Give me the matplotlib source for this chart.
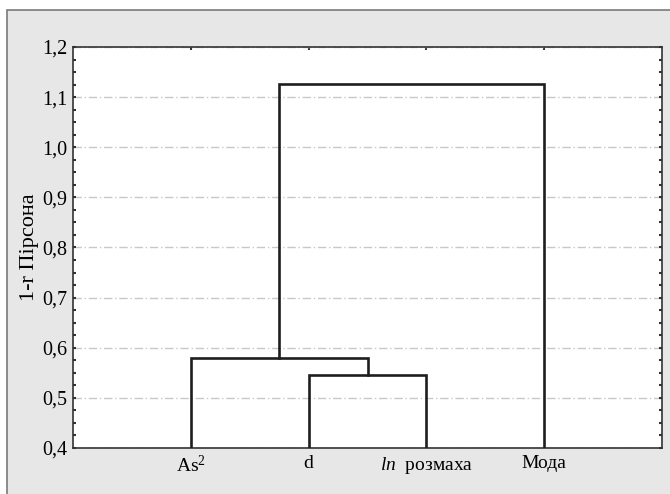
import matplotlib
matplotlib.use("Agg")
import matplotlib.pyplot as plt
from matplotlib.patches import Rectangle
from matplotlib.ticker import MultipleLocator, FuncFormatter

# leaves in dendrogram order and merge heights (1 - Pearson r)
leaves = ["As$^2$", "d", "$\\mathit{ln}$  розмаха", "Мода"]
# (left node, right node, height); nodes >= len(leaves) are earlier merges
merges = [
    (1, 2, 0.545),
    (0, 4, 0.580),
    (5, 3, 1.127),
]
y_label = "1-r Пірсона"

plt.rcParams["font.family"] = ["Liberation Serif", "DejaVu Serif"]
plt.rcParams["mathtext.fontset"] = "custom"
plt.rcParams["mathtext.rm"] = "Liberation Serif"
plt.rcParams["mathtext.it"] = "Liberation Serif:italic"

fig = plt.figure(figsize=(6.70, 4.94), dpi=100)
fig.patch.set_facecolor("white")

# grey panel behind the plot (runs off the right and bottom edges)
top = 1 - 10 / 494
fig.patches.append(Rectangle((7 / 670, -0.1), 1.0, top + 0.1, transform=fig.transFigure,
                             facecolor="#e6e7e6", edgecolor="#7a7a7a", linewidth=1.2,
                             zorder=-5))

ax = fig.add_axes([73 / 670, 1 - 448 / 494, (662 - 73) / 670, (448 - 47) / 494])
ax.set_zorder(2)
ax.set_facecolor("white")

# node x positions and heights
xpos = {i: i + 1 for i in range(len(leaves))}
ypos = {i: 0.0 for i in range(len(leaves))}
for k, (a, b, h) in enumerate(merges):
    node = len(leaves) + k
    ya = max(ypos[a], 0.38)
    yb = max(ypos[b], 0.38)
    ax.plot([xpos[a], xpos[a], xpos[b], xpos[b]], [ya, h, h, yb],
            color="#1e1e1e", linewidth=1.9, solid_joinstyle="miter", zorder=3,
            clip_on=True)
    xpos[node] = (xpos[a] + xpos[b]) / 2
    ypos[node] = h

ax.set_xlim(0, len(leaves) + 1)
ax.set_ylim(0.4, 1.2)
ax.set_xticks(range(1, len(leaves) + 1))
ax.set_xticklabels(leaves, fontsize=14)
ax.yaxis.set_major_locator(MultipleLocator(0.1))
ax.yaxis.set_minor_locator(MultipleLocator(0.025))
ax.yaxis.set_major_formatter(FuncFormatter(lambda v, p: f"{v:.1f}".replace(".", ",")))
ax.tick_params(axis="y", labelsize=14.5)

ax.tick_params(axis="both", which="both", direction="in", length=2.5, width=1.5,
               color="#333333", top=True, right=True, pad=4)
ax.tick_params(axis="x", which="major", bottom=False, pad=5)

ax.grid(axis="y", which="major", color="#c8c8c8", linestyle=(0, (6, 2, 1, 2)),
        linewidth=1.0, zorder=1)

for s in ax.spines.values():
    s.set_color("#333333")
    s.set_linewidth(1.2)

ax.set_ylabel(y_label, fontsize=16, labelpad=2)

fig.savefig("out.png", dpi=100)
